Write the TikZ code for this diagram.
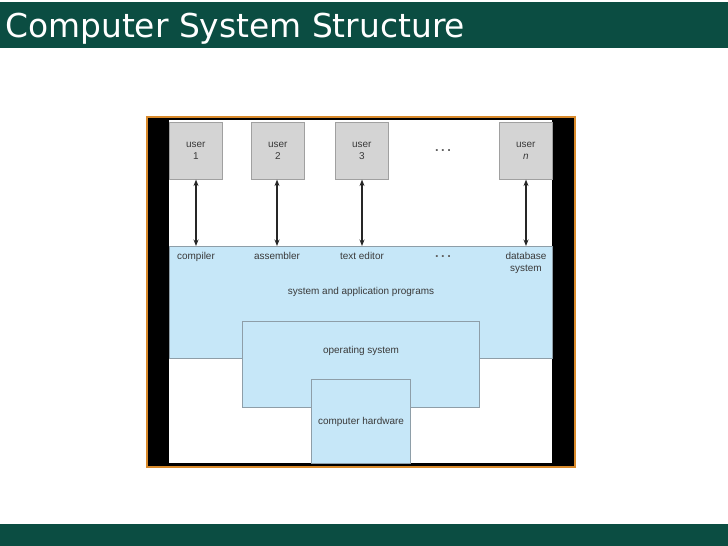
\documentclass[tikz,border=0pt]{standalone}
\usepackage{fontspec}
\setmainfont{Liberation Sans}
\newfontfamily\titlefont{DejaVu Sans}
\usetikzlibrary{arrows.meta}
\definecolor{bargreen}{HTML}{0B4D42}
\definecolor{skyfill}{HTML}{C6E7F8}
\definecolor{skyline}{HTML}{8E9EA8}
\definecolor{userfill}{HTML}{D4D4D4}
\definecolor{userline}{HTML}{A0A0A0}
\definecolor{framebrown}{HTML}{D98A2B}
\definecolor{txt}{HTML}{3A3A3A}
\tikzset{
  userbox/.style={draw=userline, fill=userfill, line width=0.6pt, minimum width=53bp, minimum height=57bp, inner sep=0pt, anchor=north west, font=\fontsize{10}{11.5}\selectfont, text=txt, align=center},
  layer/.style={draw=skyline, fill=skyfill, line width=0.6pt, inner sep=0pt, anchor=north west},
  lbl/.style={font=\fontsize{10}{11.5}\selectfont, text=txt, align=center, inner sep=0pt},
  dotsl/.style={font=\fontsize{13}{13}\selectfont\bfseries, text=txt!80, inner sep=0pt},
  link/.style={draw=black!85, line width=1.1pt, {Stealth[length=6.5pt,width=5pt]}-{Stealth[length=6.5pt,width=5pt]}}
}
\begin{document}
\begin{tikzpicture}[x=1bp,y=-1bp]
\useasboundingbox (0,0) rectangle (728,546);
% bars
\fill[bargreen] (0,2) rectangle (728,48);
\node[anchor=base west, inner sep=0pt, text=white, font=\titlefont\fontsize{33}{33}\selectfont] (title) at (5,38) {Computer System Structure};
\fill[bargreen] (0,524) rectangle (728,546);
% frame
\fill[black] (147,117) rectangle (575,467);
\draw[framebrown, line width=2pt] (147,117) rectangle (575,467);
\fill[white] (169,120) rectangle (552,463);
% users
\node[userbox] (u1) at (169,122) {user\\1};
\node[userbox] (u2) at (251,122) {user\\2};
\node[userbox] (u3) at (335,122) {user\\3};
\node[userbox] (un) at (499,122) {user\\\textit{n}};
\node[dotsl] (dots1) at (443,151) {.\kern2.5pt.\kern2.5pt.};
% layers
\node[layer, minimum width=383bp, minimum height=112bp] (sys) at (169,246) {};
\node[layer, minimum width=237bp, minimum height=86bp] (os) at (242,321) {};
\node[layer, minimum width=99bp, minimum height=84bp] (hw) at (311,379) {};
% labels
\node[lbl, anchor=north] (l1) at (196,252.5) {compiler};
\node[lbl, anchor=north] (l2) at (277,252.5) {assembler};
\node[lbl, anchor=north] (l3) at (362,252.5) {text editor};
\node[lbl, anchor=north] (l4) at (526,252.5) {database\\system};
\node[dotsl] (dots2) at (443,257) {.\kern2.5pt.\kern2.5pt.};
\node[lbl] (sysl) at (361,292) {system and application programs};
\node[lbl] (osl) at (361,351) {operating system};
\node[lbl] (hwl) at (361,422) {computer hardware};
% arrows
\draw[link] (u1.south -| l1) -- (l1.north |- sys.north);
\draw[link] (u2.south -| l2) -- (l2.north |- sys.north);
\draw[link] (u3.south -| l3) -- (l3.north |- sys.north);
\draw[link] (un.south -| l4) -- (l4.north |- sys.north);
\end{tikzpicture}
\end{document}
